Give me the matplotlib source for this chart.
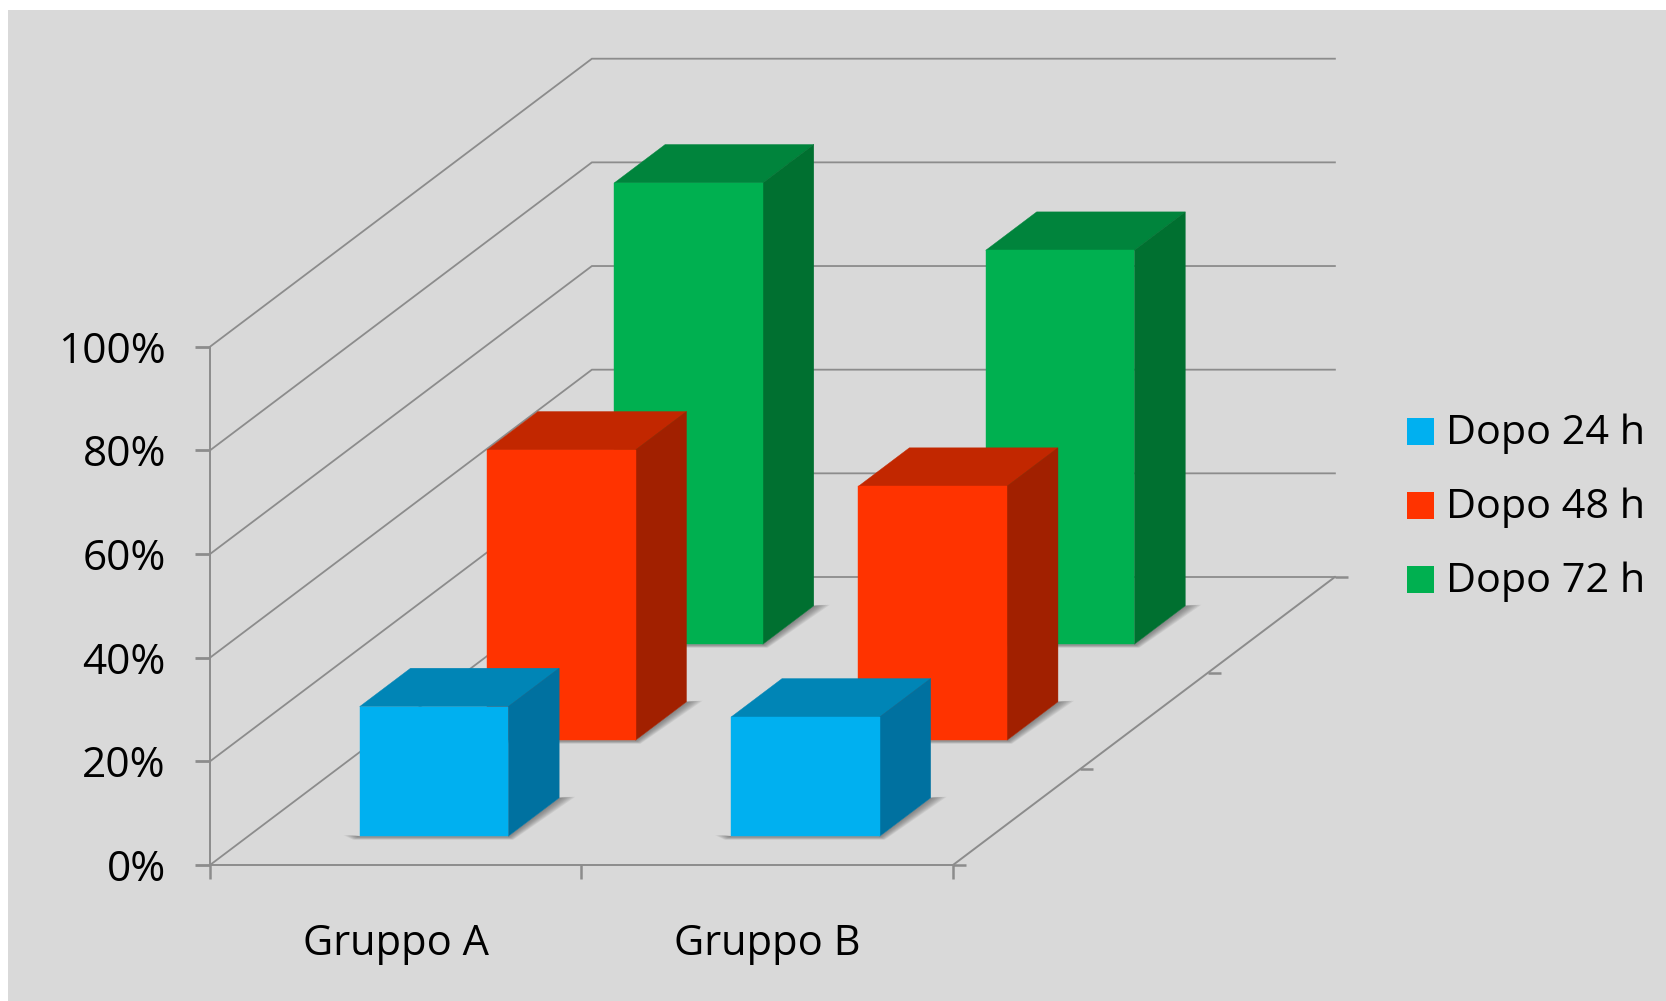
import numpy as np
import matplotlib
matplotlib.use('Agg')
import matplotlib.pyplot as plt
from matplotlib.patches import Polygon, Rectangle

groups = ['Gruppo A', 'Gruppo B']
series_labels = ['Dopo 24 h', 'Dopo 48 h', 'Dopo 72 h']
dopo_24 = [25, 23]
dopo_48 = [56, 49]
dopo_72 = [89, 76]
y_ticks = [0, 20, 40, 60, 80, 100]

front_colors = ['#00B0F0', '#FF3300', '#00B050']
top_colors = ['#0085B6', '#C22700', '#00843C']
side_colors = ['#0071A0', '#A12000', '#007030']

grid_color = '#8C8C8C'
bg_color = '#D9D9D9'

# oblique box: origin is the front-left floor corner, all in canvas pixels
ox, oy = 210, 865
group_w = 371.5
depth_dx, depth_dy = 127.3, 96.0
value_h = 5.183
bar_from, bar_to = 0.3, 0.7


def project(group, depth, value):
    x = ox + group * group_w + depth * depth_dx
    y = oy - depth * depth_dy - value * value_h
    return x, y


def poly(ax, pts, color, **kw):
    ax.add_patch(Polygon(pts, closed=True, facecolor=color, edgecolor=color, lw=0.3, zorder=4, **kw))


def shadow(ax, g, s):
    # soft smear on the floor, built from stacked translucent polygons
    fl = project(g + bar_from, s + bar_from, 0)
    fr = project(g + bar_to, s + bar_from, 0)
    br = project(g + bar_to, s + bar_to, 0)
    for k in np.linspace(0, 1, 9):
        reach = 15 * (1 - k) + 1
        drop = 5 * (1 - k)
        pts = [(fl[0] - reach, fl[1] - 1), (fl[0] - reach * 0.4, fl[1] + drop * 0.7),
               (fr[0] + drop, fr[1] + drop * 0.7), (br[0] + reach, br[1] - 1),
               (br[0], br[1]), fr, fl]
        ax.add_patch(Polygon(pts, closed=True, facecolor='#555555', edgecolor='none',
                             alpha=0.11, zorder=3))


def bar3d(ax, g, s, value):
    x0, x1 = g + bar_from, g + bar_to
    d0, d1 = s + bar_from, s + bar_to
    shadow(ax, g, s)
    poly(ax, [project(x0, d0, value), project(x1, d0, value),
              project(x1, d1, value), project(x0, d1, value)], top_colors[s])
    poly(ax, [project(x1, d0, 0), project(x1, d1, 0),
              project(x1, d1, value), project(x1, d0, value)], side_colors[s])
    poly(ax, [project(x0, d0, 0), project(x1, d0, 0),
              project(x1, d0, value), project(x0, d0, value)], front_colors[s])


plt.rcParams['font.family'] = ['Open Sans', 'DejaVu Sans']
fig = plt.figure(figsize=(16.66, 10.01), dpi=100)
ax = fig.add_axes([0, 0, 1, 1])
ax.set_xlim(0, 1666)
ax.set_ylim(1001, 0)
ax.axis('off')
ax.add_patch(Rectangle((8, 10), 1658, 991, facecolor=bg_color, edgecolor='none', zorder=0))

n_groups = len(groups)
n_series = len(series_labels)

# left wall and back wall gridlines
for v in y_ticks:
    a = project(0, 0, v)
    b = project(0, n_series, v)
    c = project(n_groups, n_series, v)
    ax.plot([a[0], b[0], c[0]], [a[1], b[1], c[1]], color=grid_color, lw=1.3,
            solid_joinstyle='miter')
    ax.plot([a[0] - 15, a[0]], [a[1], a[1]], color=grid_color, lw=2, solid_capstyle='butt')
    ax.text(a[0] - 44, a[1] + 5, f'{v}%', ha='right', va='center', fontsize=30.5, color='black')

# vertical axis and floor outline
a = project(0, 0, 0)
b = project(0, 0, y_ticks[-1])
ax.plot([a[0], b[0]], [a[1], b[1]], color=grid_color, lw=1.4)
c = project(n_groups, 0, 0)
d = project(n_groups, n_series, 0)
ax.plot([a[0], c[0], d[0]], [a[1], c[1], d[1]], color=grid_color, lw=1.4)

for g in range(n_groups + 1):
    p = project(g, 0, 0)
    ax.plot([p[0], p[0]], [p[1], p[1] + 14], color=grid_color, lw=1.8, solid_capstyle='butt')
for s in range(n_series + 1):
    p = project(n_groups, s, 0)
    ax.plot([p[0], p[0] + 13], [p[1], p[1]], color=grid_color, lw=1.8, solid_capstyle='butt')

# back row first so the nearer bars cover it
values = [dopo_24, dopo_48, dopo_72]
for s in reversed(range(n_series)):
    for g in range(n_groups):
        bar3d(ax, g, s, values[s][g])

for g, name in enumerate(groups):
    x, _ = project(g + 0.5, 0, 0)
    ax.text(x, 955, name, ha='center', va='baseline', fontsize=30, color='black')

# legend
legend_y = [431.5, 505.5, 579.5]
for s, name in enumerate(series_labels):
    ax.add_patch(Rectangle((1407, legend_y[s] - 13.5), 27, 27, facecolor=front_colors[s], edgecolor='none'))
    ax.text(1446, legend_y[s] + 2, name, ha='left', va='center', fontsize=29.8, color='black')

fig.savefig('out.png', dpi=100)
